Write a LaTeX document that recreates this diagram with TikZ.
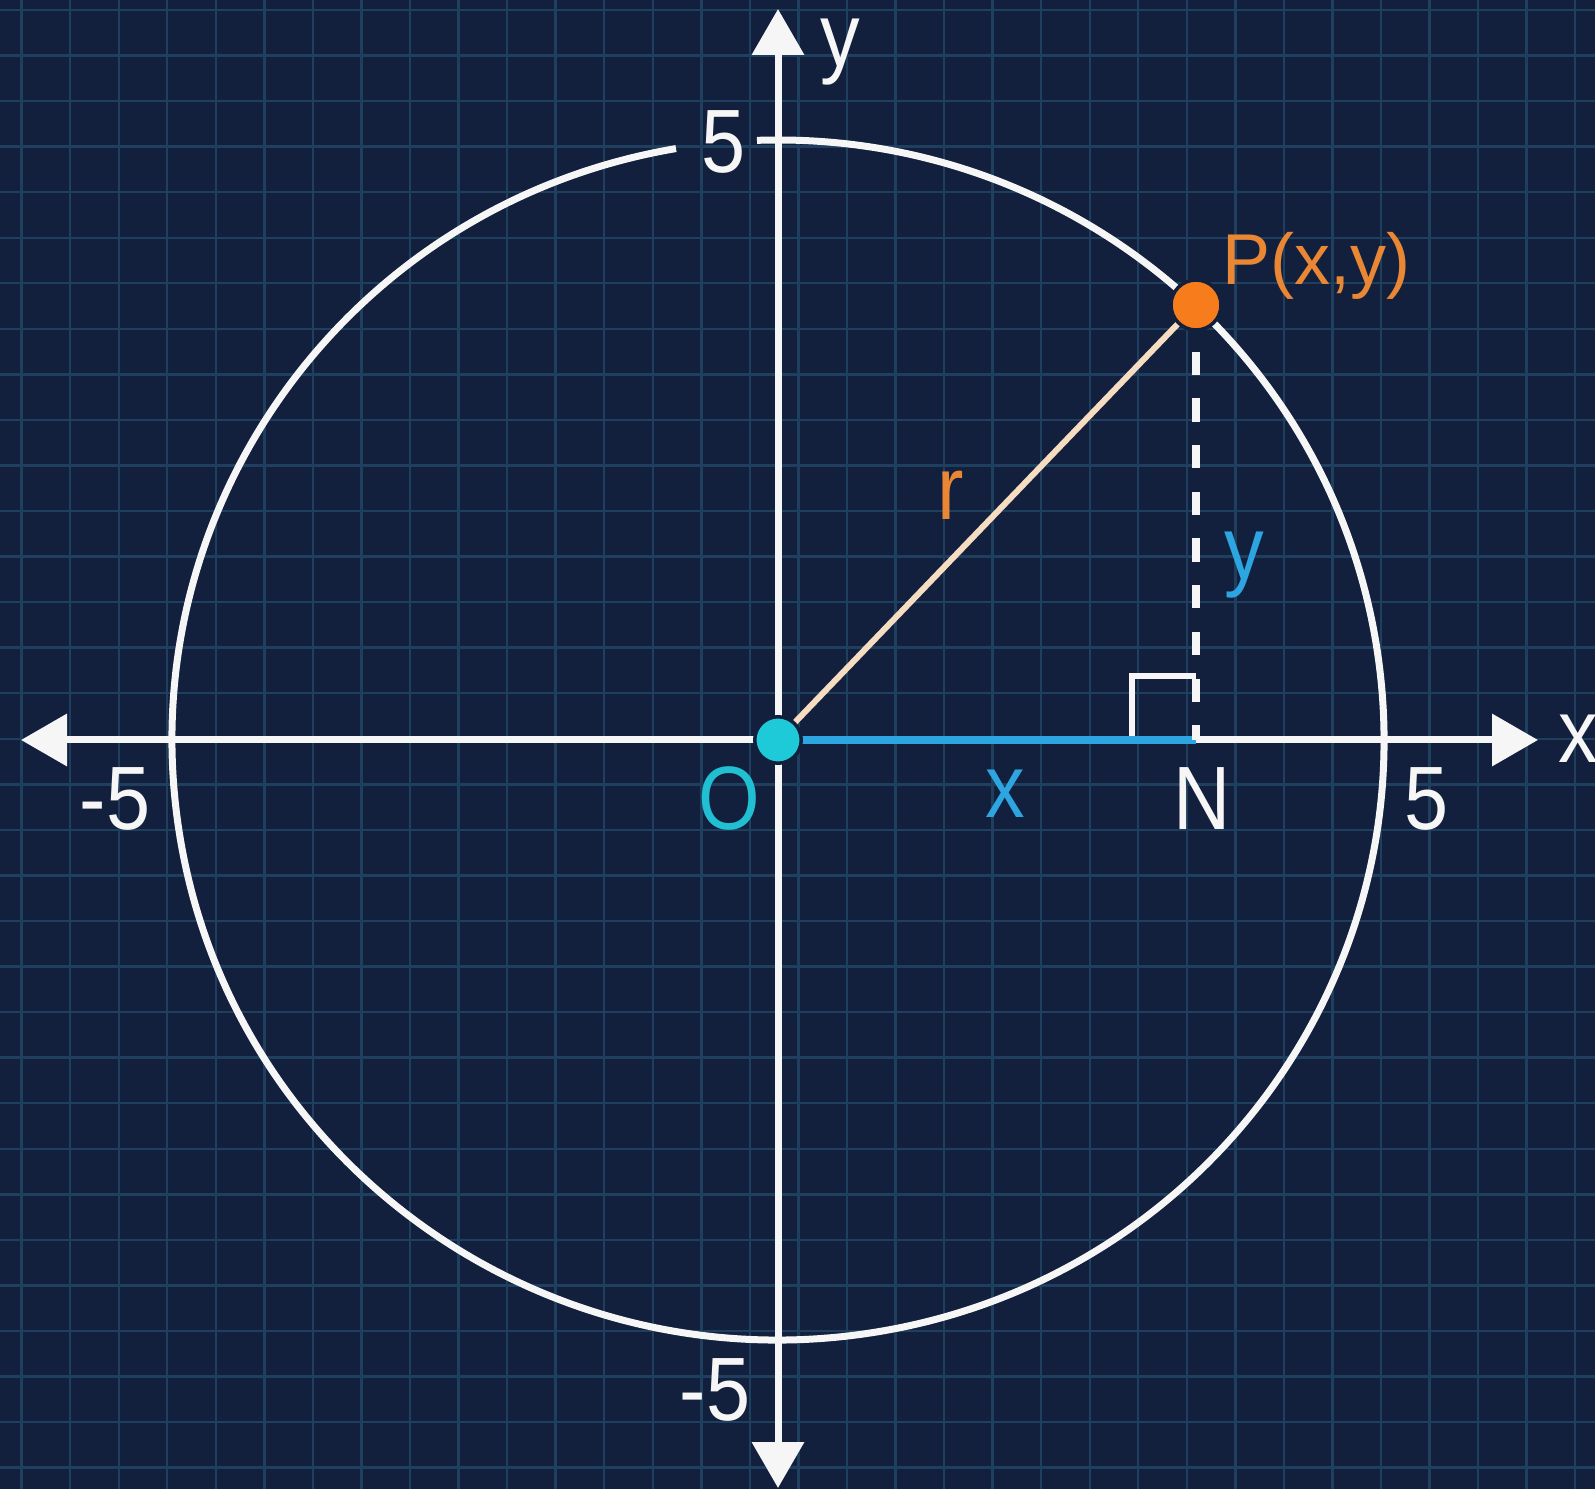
\documentclass[tikz,border=0pt]{standalone}
\usepackage{fontspec}
\setmainfont{Liberation Sans}
\newfontfamily\labfont{Liberation Sans}[FakeStretch=0.88]
\usetikzlibrary{arrows.meta}
\definecolor{bgc}{RGB}{18,31,61}
\definecolor{gridc}{RGB}{31,63,95}
\definecolor{wht}{RGB}{246,246,246}
\definecolor{orangetext}{RGB}{233,135,52}
\definecolor{orangedot}{RGB}{247,124,28}
\definecolor{peach}{RGB}{246,220,192}
\definecolor{cyanc}{RGB}{30,202,216}
\definecolor{cyantext}{RGB}{32,192,210}
\definecolor{bluec}{RGB}{45,165,225}
\begin{document}
\begin{tikzpicture}[x=0.5pt,y=0.5pt,
  lab/.style={inner sep=0pt, anchor=base, text=wht, font=\labfont\fontsize{45pt}{54pt}\selectfont},
  axisline/.style={draw=wht, line width=3.5pt, {Triangle[length=23pt,width=25.5pt]}-{Triangle[length=23pt,width=25.5pt]}},
  gridline/.style={draw=gridc, line width=1.2pt},
  dot/.style={circle, draw=bgc, line width=1.75pt, inner sep=0pt}]
\fill[bgc] (0,0) rectangle (1595,1489);
\useasboundingbox (0,0) rectangle (1595,1489);
\foreach \k in {0,...,32} {\draw[gridline] ({21.6+48.55*\k},0) -- ({21.6+48.55*\k},1489);}
\foreach \k in {0,...,32} {\draw[gridline] (0,{1479-45.55*\k}) -- (1595,{1479-45.55*\k});}
% key points
\coordinate (O) at (778,749);
\coordinate (P) at (1196,1184);
\coordinate (N) at (1196,749);
\coordinate (xl) at (21,749);
\coordinate (xr) at (1538,749);
\coordinate (yt) at (778,1480);
\coordinate (yb) at (778,1);
% axes
\draw[axisline] (xl) -- (xr);
\draw[axisline] (yb) -- (yt);
% circle (gap at the top label)
\draw[wht, line width=3.5pt] ([shift={(99.69:606 and 600)}]O) arc[start angle=99.69, end angle=451.99, x radius=606, y radius=600];
% right angle mark
\draw[wht, line width=3pt] ([shift={(-64,0)}]N) -- ([shift={(-64,64)}]N) -- ([shift={(0,64)}]N);
% segments
\draw[bluec, line width=4pt] (O) -- (N);
\draw[peach, line width=3pt] (O) -- (P);
\draw[wht, line width=4pt, dash pattern=on 11.65pt off 11.7pt] (P) -- (N);
% dots
\node[dot, fill=cyanc, minimum size=23.25pt] (Odot) at (O) {};
\node[dot, fill=orangedot, minimum size=25pt] (Pdot) at (P) {};
% labels
\node[lab] (ylab) at (840,1422) {y};
\node[lab] (ytop) at (724,1316) {5};
\node[lab] (xneg) at (115,659) {-5};
\node[lab] (xpos) at (1427,659) {5};
\node[lab] (xlab) at (1578,726) {x};
\node[lab, text=cyantext] (Olab) at (729,659) {O};
\node[lab, text=bluec] (xseg) at (1005,671) {x};
\node[lab] (Nlab) at (1202,659) {N};
\node[lab] (yneg) at (715,69) {-5};
\node[lab, text=orangetext] (rlab) at (951,969) {r};
\node[lab, text=bluec] (yseg) at (1244,909) {y};
\node[inner sep=0pt, anchor=base west, text=orangetext, font=\fontsize{36pt}{43pt}\selectfont] (Plab) at (1222,1204) {P(x,y)};
\end{tikzpicture}
\end{document}
